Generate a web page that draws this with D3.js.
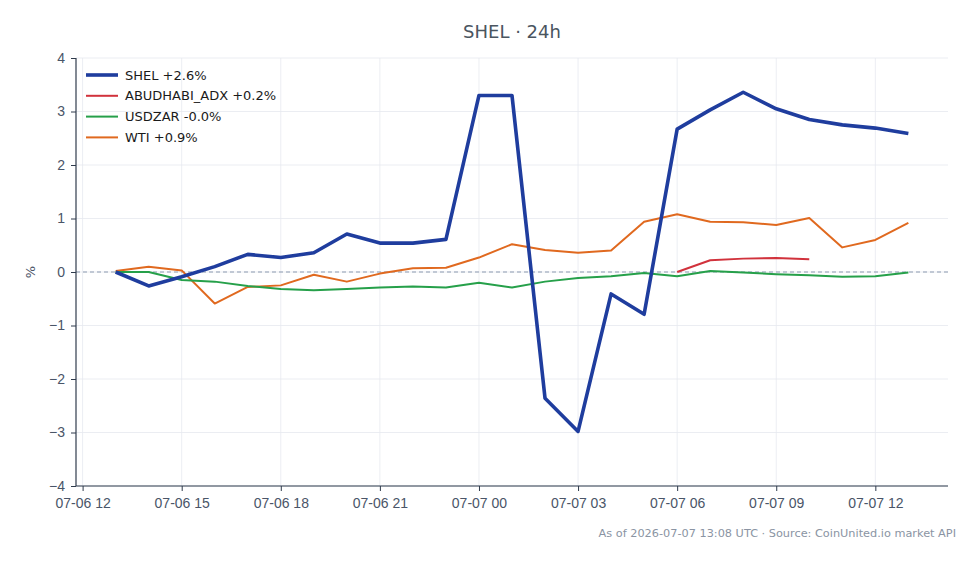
<!DOCTYPE html>
<html>
<head>
<meta charset="utf-8">
<script src="https://cdn.jsdelivr.net/npm/d3@7"></script>
<style>
  body { margin: 0; background: #fff; }
  svg { font-family: "DejaVu Sans", sans-serif; display: block; }
</style>
</head>
<body>
<div id="chart"></div>
<script>
// hourly points, 07-06 13:00 UTC .. 07-07 13:00 UTC
const startTime = Date.UTC(2026, 6, 6, 13);
const hours = d3.range(25).map(i => new Date(startTime + i * 3600e3));

const shel = [0, -0.26, -0.09, 0.10, 0.33, 0.27, 0.36, 0.71, 0.54, 0.54, 0.61,
    3.30, 3.30, -2.36, -2.98, -0.41, -0.79, 2.67, 3.03, 3.36, 3.05, 2.85, 2.75, 2.69, 2.59];
const wti = [0.02, 0.10, 0.03, -0.59, -0.28, -0.25, -0.05, -0.18, -0.03, 0.07, 0.08,
    0.27, 0.52, 0.41, 0.36, 0.40, 0.94, 1.08, 0.94, 0.93, 0.88, 1.01, 0.46, 0.60, 0.92];
const usdzar = [0, 0, -0.15, -0.18, -0.26, -0.32, -0.34, -0.32, -0.29, -0.27, -0.29,
    -0.20, -0.29, -0.18, -0.11, -0.08, -0.02, -0.08, 0.02, -0.01, -0.04, -0.06, -0.09, -0.08, -0.01];
// ABUDHABI_ADX only trades from 07-07 06:00 to 10:00
const adxStart = 17;
const adx = [0, 0.22, 0.25, 0.26, 0.24];

const seriesList = [
    { name: 'SHEL +2.6%', color: '#1f3d9e', width: 3.6, values: shel, offset: 0 },
    { name: 'ABUDHABI_ADX +0.2%', color: '#d1323c', width: 2, values: adx, offset: adxStart },
    { name: 'USDZAR -0.0%', color: '#26a04a', width: 2, values: usdzar, offset: 0 },
    { name: 'WTI +0.9%', color: '#e0691f', width: 2, values: wti, offset: 0 }
];
const drawOrder = [3, 2, 1, 0];

const yTicks = [-4, -3, -2, -1, 0, 1, 2, 3, 4];

const width = 980, height = 564;
const margin = { top: 58, right: 32, bottom: 78, left: 76 };

const svg = d3.select('#chart').append('svg')
    .attr('width', width).attr('height', height);

// 5% padding on the time domain, like the original
const span = hours[hours.length - 1] - hours[0];
const xScale = d3.scaleUtc()
    .domain([new Date(+hours[0] - span * 0.05), new Date(+hours[hours.length - 1] + span * 0.05)])
    .range([margin.left, width - margin.right]);
const yScale = d3.scaleLinear()
    .domain([-4, 4])
    .range([height - margin.bottom, margin.top]);

const xTicks = xScale.ticks(d3.utcHour.every(3));

// grid
const grid = svg.append('g').attr('stroke', '#e6e9ef').attr('stroke-width', 0.8);
grid.selectAll('line.v').data(xTicks).join('line')
    .attr('x1', d => xScale(d)).attr('x2', d => xScale(d))
    .attr('y1', margin.top).attr('y2', height - margin.bottom);
grid.selectAll('line.h').data(yTicks).join('line')
    .attr('x1', margin.left).attr('x2', width - margin.right)
    .attr('y1', d => yScale(d)).attr('y2', d => yScale(d));

// zero line
svg.append('line')
    .attr('x1', margin.left).attr('x2', width - margin.right)
    .attr('y1', yScale(0)).attr('y2', yScale(0))
    .attr('stroke', '#8d9bb0').attr('stroke-width', 1)
    .attr('stroke-dasharray', '4,3');

// axes
const fmtMinus = d => d < 0 ? '\u2212' + Math.abs(d) : String(d);
const yAxis = svg.append('g')
    .attr('transform', `translate(${margin.left},0)`)
    .call(d3.axisLeft(yScale).tickValues(yTicks).tickFormat(fmtMinus).tickSize(5).tickPadding(6));
const xAxis = svg.append('g')
    .attr('transform', `translate(0,${height - margin.bottom})`)
    .call(d3.axisBottom(xScale).tickValues(xTicks).tickFormat(d3.utcFormat('%m-%d %H')).tickSize(5).tickPadding(7));

[xAxis, yAxis].forEach(ax => {
    ax.select('.domain').attr('stroke', '#2f3b4c').attr('stroke-width', 1.2);
    ax.selectAll('.tick line').attr('stroke', '#2f3b4c');
    ax.selectAll('.tick text').attr('fill', '#4a5568').style('font-size', '14px');
});
xAxis.select('.domain').attr('d', `M${margin.left},0H${width - margin.right}`);
yAxis.select('.domain').attr('d', `M0,${margin.top}V${height - margin.bottom}`);

// lines
const line = d3.line()
    .x(d => xScale(d.t))
    .y(d => yScale(d.v));

drawOrder.forEach(i => {
    const s = seriesList[i];
    const pts = s.values.map((v, j) => ({ t: hours[s.offset + j], v }));
    svg.append('path')
        .datum(pts)
        .attr('fill', 'none')
        .attr('stroke', s.color)
        .attr('stroke-width', s.width)
        .attr('stroke-linejoin', 'round')
        .attr('d', line);
});

// legend
const legend = svg.append('g').attr('transform', 'translate(86,75)');
seriesList.forEach((s, i) => {
    const row = legend.append('g').attr('transform', `translate(0,${i * 20.8})`);
    row.append('line')
        .attr('x1', 0).attr('x2', 32)
        .attr('stroke', s.color)
        .attr('stroke-width', s.width);
    row.append('text')
        .attr('x', 39).attr('y', 4.5)
        .attr('fill', '#1a1a1a')
        .style('font-size', '13px')
        .text(s.name);
});

// title, y label, footer
svg.append('text')
    .attr('x', (margin.left + width - margin.right) / 2).attr('y', 38)
    .attr('text-anchor', 'middle')
    .attr('fill', '#4a5560')
    .style('font-size', '18px')
    .text('SHEL \u00b7 24h');

svg.append('text')
    .attr('transform', `translate(35,${yScale(0)}) rotate(-90)`)
    .attr('text-anchor', 'middle')
    .attr('fill', '#4a5568')
    .style('font-size', '13px')
    .text('%');

svg.append('text')
    .attr('x', 956).attr('y', 537)
    .attr('text-anchor', 'end')
    .attr('fill', '#8a94a3')
    .style('font-size', '11.3px')
    .text('As of 2026-07-07 13:08 UTC \u00b7 Source: CoinUnited.io market API');
</script>
</body>
</html>
